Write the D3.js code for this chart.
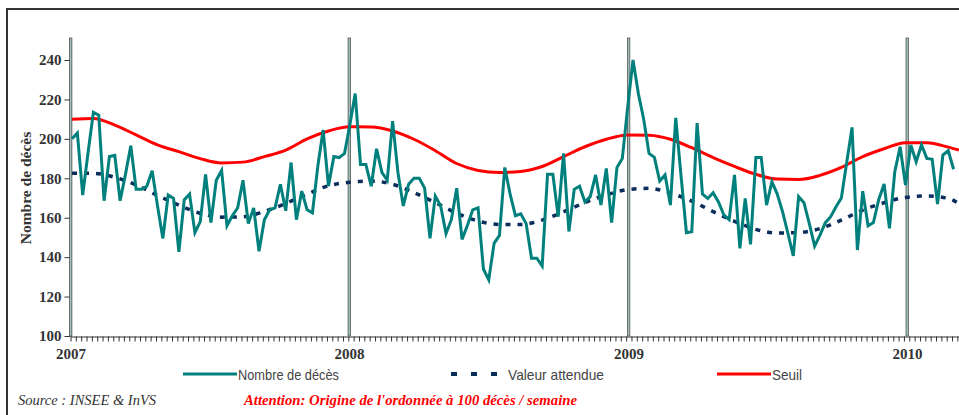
<!DOCTYPE html>
<html>
<head>
<meta charset="utf-8">
<script src="https://cdn.jsdelivr.net/npm/d3@7"></script>
<style>
  body { margin: 0; background: #fff; }
  svg { display: block; }
</style>
</head>
<body>
<script>
// weekly deaths, first week of 2007 onwards
var deces = [200,203,171.5,193,213.5,212,168.6,191,191.6,168.6,182,196.5,174.4,174.4,176,183.8,166,149.5,171.5,169.8,142.7,
  169,172,152.4,158,182,157.5,179,184,156,161,165,179,157,165,143,159,164,165,177,163.5,188,
  159,173.5,164,162.5,186,204.5,176,191,190.5,192.6,207,223,187,187,176,195,183,179,209,183,
  166,177,180,180,175,149.5,171,166,152,159,175,149,156,164,165,134,128.5,147,151,185.5,172,
  161,162,157,139.5,139.5,135.5,182,182,160.5,192.6,153,174.4,176,168,170.7,181.7,166.4,185,157.5,185.5,190,
  216,240,223,210,192.6,190.6,178.6,181.7,166.4,210.7,181,152.4,152.9,208,172,169.8,172.7,168,161.4,159,
  181.7,144.5,169.8,146.5,190.6,190.6,166.4,178.3,172,163,152,140.6,170.7,167.6,157,145.6,151.2,157.5,160.5,165.6,170,
  188,205.8,143.6,173.5,155.9,157.5,169.3,177.1,154.6,183.3,196,176.6,196.9,188.4,196.9,190.1,189.6,166.9,191.8,194,184.6];

// expected value and threshold, read every 4 weeks
var refWeeks = [0,4,8,12,16,20,24,28,32,36,40,44,48,52,56,60,64,68,72,76,80,84,88,92,96,100,
  104,108,112,116,120,124,128,132,136,140,144,148,152,156,160,164,166];
var attendue = [182.6,182.5,180.5,176.6,171.3,166.4,162.2,160.3,160.5,163.2,167.2,172,176.2,178,178.6,177,
  172.7,167.7,162.3,158.3,156.6,156.6,158.8,163,167.7,171.6,174.3,174.9,172.5,168.4,163.1,158.2,
  154.1,152.2,152.5,154.5,158.8,163.9,167.6,170.3,171,169.8,167.1];
var seuil = [210,210.3,207,202,197,193.5,190,187.8,188.2,191,194.3,200,204,206.1,206,204,199.8,194,187.5,184,
  183,183.5,186,191,196,199.8,202,201.8,199.8,195.5,190.5,186,182,179.6,179.4,181.5,185.5,191,195,198,
  198,195.8,194.3];

var years = [2007, 2008, 2009, 2010];
var yTicks = [100, 120, 140, 160, 180, 200, 220, 240];

var width = 959,
    height = 415;

var teal = "#00807c",
    navy = "#0a2d5c",
    red = "#ff0000";

var firstWeek = Date.UTC(2007, 0, 3);
function weekDate(i) { return new Date(firstWeek + i * 7 * 864e5); }

var x = d3.scaleUtc()
    .domain([new Date(Date.UTC(2007, 0, 1)), new Date(Date.UTC(2010, 0, 1))])
    .range([70.5, 907]);
x.domain([x.domain()[0], x.invert(959)]).range([70.5, 959]);

var y = d3.scaleLinear()
    .domain([100, 250])
    .range([336, 40.3]);

var svg = d3.select("body").append("svg")
    .attr("width", width)
    .attr("height", height);

// frame
svg.append("path")
    .attr("d", "M7,415V9H959")
    .attr("fill", "none")
    .attr("stroke", "#333")
    .attr("stroke-width", 2);

// y axis
var yAxis = svg.append("g")
    .attr("transform", "translate(70.5,0)")
    .call(d3.axisLeft(y).tickValues(yTicks).tickSize(6).tickPadding(3).tickSizeOuter(0));
yAxis.selectAll("text")
    .attr("font-family", "'Liberation Serif', 'Times New Roman', serif")
    .attr("font-weight", "bold")
    .attr("font-size", 15)
    .attr("fill", "#333");
yAxis.selectAll("line, path").attr("stroke", "#333");

svg.append("text")
    .attr("transform", "translate(31,188) rotate(-90)")
    .attr("text-anchor", "middle")
    .attr("font-family", "'Liberation Serif', 'Times New Roman', serif")
    .attr("font-weight", "bold")
    .attr("font-size", 15.5)
    .attr("fill", "#333")
    .text("Nombre de décès");

// x axis: weekly ticks
var xAxis = svg.append("g")
    .attr("transform", "translate(0,336.5)")
    .call(d3.axisBottom(x).ticks(d3.utcMonday.every(1)).tickSize(5).tickFormat("").tickSizeOuter(0));
xAxis.selectAll("line, path").attr("stroke", "#333");

var yearAxis = svg.append("g")
    .attr("transform", "translate(0,336.5)")
    .call(d3.axisBottom(x)
      .tickValues(years.map(function(d) { return new Date(Date.UTC(d, 0, 1)); }))
      .tickSize(0).tickPadding(12)
      .tickFormat(d3.utcFormat("%Y")));
yearAxis.select(".domain").remove();
yearAxis.selectAll("text")
    .attr("font-family", "'Liberation Serif', 'Times New Roman', serif")
    .attr("font-weight", "bold")
    .attr("font-size", 15)
    .attr("fill", "#333");

// year markers
svg.selectAll(".yearline")
    .data(years)
  .enter().append("rect")
    .attr("class", "yearline")
    .attr("x", function(d) { return x(new Date(Date.UTC(d, 0, 1))) - 1; })
    .attr("y", 38)
    .attr("width", 2.4)
    .attr("height", 336 - 38)
    .attr("fill", "#9dbebb")
    .attr("stroke", "#555")
    .attr("stroke-width", 0.8);

var lineRef = function(vals) {
  return d3.line()
    .x(function(d, i) { return x(weekDate(refWeeks[i])); })
    .y(function(d) { return y(d); })
    .curve(d3.curveMonotoneX)(vals);
};

svg.append("path")
    .attr("d", lineRef(attendue))
    .attr("fill", "none")
    .attr("stroke", navy)
    .attr("stroke-width", 3.5)
    .attr("stroke-dasharray", "5,7");

svg.append("path")
    .attr("d", lineRef(seuil))
    .attr("fill", "none")
    .attr("stroke", red)
    .attr("stroke-width", 3);

var line = d3.line()
    .x(function(d, i) { return x(weekDate(i)); })
    .y(function(d) { return y(d); });

svg.append("path")
    .datum(deces)
    .attr("d", line)
    .attr("fill", "none")
    .attr("stroke", teal)
    .attr("stroke-width", 3)
    .attr("stroke-linejoin", "miter");

// legend (condensed font is not available, so squeeze to the original widths)
var legend = [
  {label: "Nombre de décès", color: teal, x: 183, dash: null, w: 3, tw: 101},
  {label: "Valeur attendue", color: navy, x: 451, dash: "6,14", w: 4, tw: 96},
  {label: "Seuil", color: red, x: 717, dash: null, w: 3, tw: 30}
];
var lg = svg.selectAll(".legend")
    .data(legend)
  .enter().append("g")
    .attr("class", "legend")
    .attr("transform", function(d) { return "translate(" + d.x + ",374)"; });
lg.append("line")
    .attr("x1", 0)
    .attr("x2", function(d) { return d.dash ? 46 : 54; })
    .attr("stroke", function(d) { return d.color; })
    .attr("stroke-width", function(d) { return d.w; })
    .attr("stroke-dasharray", function(d) { return d.dash; });
lg.append("text")
    .attr("x", function(d) { return d.dash ? 57 : 55; })
    .attr("y", 6)
    .attr("font-family", "'Liberation Sans', Arial, sans-serif")
    .attr("font-size", 15)
    .attr("fill", "#444")
    .attr("textLength", function(d) { return d.tw; })
    .attr("lengthAdjust", "spacingAndGlyphs")
    .text(function(d) { return d.label; });

svg.append("text")
    .attr("x", 18)
    .attr("y", 405)
    .attr("font-family", "'Liberation Serif', 'Times New Roman', serif")
    .attr("font-style", "italic")
    .attr("font-size", 14.5)
    .attr("fill", "#333")
    .text("Source : INSEE & InVS");

svg.append("text")
    .attr("x", 244)
    .attr("y", 405)
    .attr("font-family", "'Liberation Serif', 'Times New Roman', serif")
    .attr("font-style", "italic")
    .attr("font-weight", "bold")
    .attr("font-size", 14.5)
    .attr("fill", red)
    .attr("textLength", 333)
    .attr("lengthAdjust", "spacingAndGlyphs")
    .text("Attention: Origine de l'ordonnée à 100 décès / semaine");
</script>
</body>
</html>
